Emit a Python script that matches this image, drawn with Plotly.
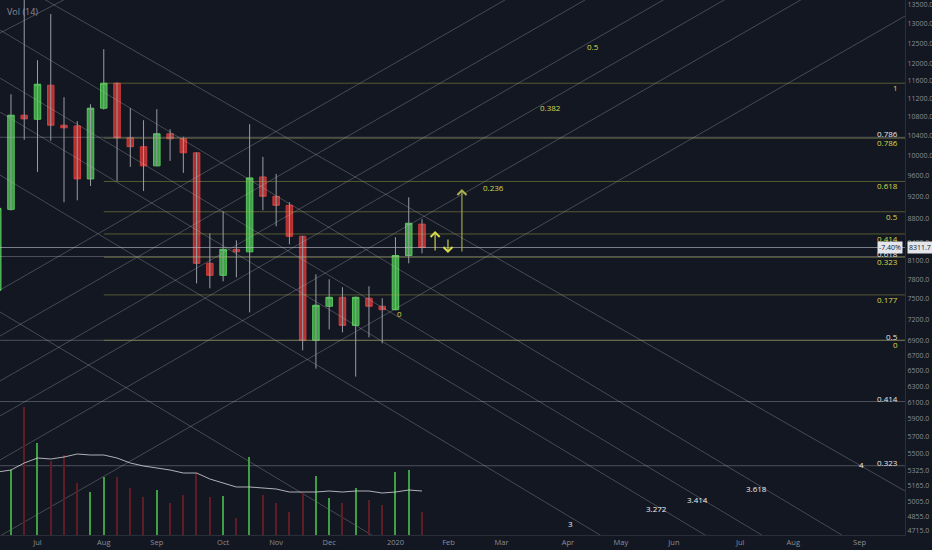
import numpy as np
import plotly.graph_objects as go

# weekly candles (Monday of each week)
dates = ["2019-06-10", "2019-06-17", "2019-06-24", "2019-07-01", "2019-07-08", "2019-07-15",
         "2019-07-22", "2019-07-29", "2019-08-05", "2019-08-12", "2019-08-19", "2019-08-26",
         "2019-09-02", "2019-09-09", "2019-09-16", "2019-09-23", "2019-09-30", "2019-10-07",
         "2019-10-14", "2019-10-21", "2019-10-28", "2019-11-04", "2019-11-11", "2019-11-18",
         "2019-11-25", "2019-12-02", "2019-12-09", "2019-12-16", "2019-12-23", "2019-12-30",
         "2020-01-06", "2020-01-13", "2020-01-20"]
opens = [7630, 8971, 10830, 10743, 11499, 10615, 10600, 9534, 10983, 11545, 10352, 10168, 9786,
         10435, 10331, 10045, 8053, 7862, 8282, 8240, 9572, 9208, 9043, 8500, 6904, 7390, 7524,
         7113, 7510, 7390, 7340, 8180, 8710]
highs = [9100, 11294, 13880, 12089, 13259, 11226, 10700, 11071, 12358, 11560, 10983, 10722, 10961,
         10530, 10373, 10050, 8551, 8936, 8432, 10636, 9963, 9630, 9099, 8510, 7878, 7800, 7676,
         7535, 7692, 7510, 8484, 9190, 8795]
lows = [7500, 8950, 10310, 9669, 10290, 9099, 9135, 9400, 10950, 9497, 9766, 9306, 9780, 9884,
        9650, 7737, 7660, 7768, 7830, 7300, 8954, 8672, 8365, 6767, 6524, 7056, 7014, 6420, 6945,
        6862, 7330, 8053, 8217]
closes = [8989, 10830, 10750, 11522, 10615, 10560, 9534, 10983, 11545, 10352, 10168, 9786, 10435,
          10331, 10045, 8053, 7862, 8282, 8240, 9553, 9208, 9043, 8500, 6904, 7405, 7524, 7113,
          7524, 7390, 7340, 8180, 8725, 8312]
vol_k = [60, 65, 128, 92, 74, 80, 52, 43, 58, 58, 47, 38, 45, 32, 40, 62, 38, 39, 17, 78, 40, 32,
         23, 42, 59, 37, 32, 47, 35, 30, 63, 65, 23]
vol_ma_k = [63, 65, 72, 77, 76, 78, 81, 80, 80, 77, 72, 69, 67, 65, 62, 62, 56, 52, 48, 48, 47, 46,
            43, 43, 43, 44, 43, 44, 44, 42, 43, 45, 44]

last_price = 8311.7
last_change = "-7.40%"

price_ticks = [13500, 13000, 12500, 12000, 11600, 11200, 10800, 10400, 10000, 9600, 9200, 8800,
               8400, 8100, 7800, 7500, 7200, 6900, 6700, 6500, 6300, 6100, 5900, 5700, 5500, 5325,
               5165, 5005, 4855, 4715]
month_ticks = ["2019-07-01", "2019-08-05", "2019-09-02", "2019-10-07", "2019-11-04", "2019-12-02",
               "2020-01-06", "2020-02-03", "2020-03-02", "2020-04-06", "2020-05-04", "2020-06-01",
               "2020-07-06", "2020-08-03", "2020-09-07"]
month_labels = ["Jul", "Aug", "Sep", "Oct", "Nov", "Dec", "2020", "Feb", "Mar", "Apr", "May", "Jun",
                "Jul", "Aug", "Sep"]

# fib retracement levels (yellow, drawn from Aug 5) and (white, full width)
yellow_levels = ["0", "0.177", "0.323", "0.414", "0.5", "0.618", "0.786", "1"]
yellow_prices = [6904, 7560, 8150, 8540, 8928, 9486, 10342, 11545]
white_levels = ["0.323", "0.414", "0.5", "0.618", "0.786"]
white_prices = [5372, 6108, 6904, 8163, 10362]

# diagonal channel lines: price at left edge / right edge of the view
line_start, line_end = "2019-06-11 05:00", "2020-10-01"
rising_p0 = [12765, 7634, 6963, 6364, 5934, 5434, 4668]
rising_p1 = [32676, 21599, 19700, 18004, 16788, 15374, 13205]
falling_p0 = [14363, 12841, 11665, 10898, 9608, 7306]
falling_p1 = [5107, 4335, 3938, 3679, 3244, 2466]

rising_labels = ["0", "0.236", "0.382", "0.5"]
rising_label_x = ["2020-01-08", "2020-02-26 12:00", "2020-03-27 14:00", "2020-04-19 07:00"]
rising_label_y = [7291, 9381, 10987, 12436]
falling_labels = ["3", "3.272", "3.414", "3.618", "4"]
falling_label_x = ["2020-04-07 05:00", "2020-05-22 14:00", "2020-06-13 05:00",
                   "2020-07-14 10:00", "2020-09-08 07:00"]
falling_label_y = [4790, 4936, 5026, 5138, 5380]

# arrows: (x tail, price tail, x head, price head)
arrows = [("2020-01-26 22:00", 8237, "2020-01-26 22:00", 8590),
          ("2020-02-02 17:00", 8470, "2020-02-02 17:00", 8221),
          ("2020-02-10 02:00", 8221, "2020-02-10 02:00", 9343)]

BG = "#131722"
YELLOW = "#d6da4a"
FONT = "Open Sans"

fig = go.Figure()

for p0, p1 in zip(rising_p0, rising_p1):
    fig.add_trace(go.Scatter(x=[line_start, line_end], y=[p0, p1], mode="lines",
                             line=dict(color="rgba(190,192,200,0.30)", width=1)))
for p0, p1 in zip(falling_p0, falling_p1):
    fig.add_trace(go.Scatter(x=[line_start, line_end], y=[p0, p1], mode="lines",
                             line=dict(color="rgba(190,192,200,0.30)", width=1)))

for p in white_prices:
    fig.add_trace(go.Scatter(x=[line_start, line_end], y=[p, p], mode="lines",
                             line=dict(color="rgba(200,202,210,0.32)", width=1)))
for p in yellow_prices:
    fig.add_trace(go.Scatter(x=["2019-08-05", line_end], y=[p, p], mode="lines",
                             line=dict(color="rgba(170,170,70,0.45)", width=1)))

fig.add_trace(go.Scatter(x=[line_start, line_end], y=[last_price, last_price], mode="lines",
                         line=dict(color="rgba(210,212,220,0.55)", width=1)))

# volume
vol_colors = ["#3f9f44" if c >= o else "#5e1c25" for o, c in zip(opens, closes)]
fig.add_trace(go.Bar(x=dates, y=vol_k, yaxis="y2", marker=dict(color=vol_colors, line_width=0),
                     width=0.7 * 86400000))
fig.add_trace(go.Scatter(x=dates, y=vol_ma_k, yaxis="y2", mode="lines",
                         line=dict(color="rgba(215,215,220,0.8)", width=1)))

# wicks
wick_x, wick_y = [], []
for d, h, l in zip(dates, highs, lows):
    wick_x += [d, d, None]
    wick_y += [l, h, None]
fig.add_trace(go.Scatter(x=wick_x, y=wick_y, mode="lines",
                         line=dict(color="#9a9da6", width=1)))

# bodies
fig.add_trace(go.Candlestick(
    x=dates, open=opens, close=closes,
    high=[max(o, c) for o, c in zip(opens, closes)],
    low=[min(o, c) for o, c in zip(opens, closes)],
    whiskerwidth=0,
    increasing=dict(fillcolor="#3fa046", line=dict(color="#58c85d", width=1)),
    decreasing=dict(fillcolor="#b3302f", line=dict(color="#cf3b3b", width=1)),
))

fig.update_traces(hoverinfo="skip", showlegend=False)

ann = []
for lv, p in zip(yellow_levels, yellow_prices):
    ann.append(dict(xref="paper", yref="y", x=0.9945, y=np.log10(p), text=lv, showarrow=False,
                    xanchor="right", yanchor="middle", yshift=-4.5,
                    font=dict(color=YELLOW, size=8, family=FONT)))
for lv, p in zip(white_levels, white_prices):
    ann.append(dict(xref="paper", yref="y", x=0.9945, y=np.log10(p), text=lv, showarrow=False,
                    xanchor="right", yanchor="middle", yshift=3.5,
                    font=dict(color="#e6e6e6", size=8, family=FONT)))
for lv, x, p in zip(rising_labels, rising_label_x, rising_label_y):
    ann.append(dict(xref="x", yref="y", x=x, y=np.log10(p), text=lv, showarrow=False,
                    font=dict(color=YELLOW, size=8, family=FONT)))
for lv, x, p in zip(falling_labels, falling_label_x, falling_label_y):
    ann.append(dict(xref="x", yref="y", x=x, y=np.log10(p), text=lv, showarrow=False,
                    font=dict(color="#eeeeee", size=8, family=FONT)))
for i, (x0, p0, x1, p1) in enumerate(arrows):
    ann.append(dict(xref="x", yref="y", axref="x", ayref="y", x=x1, y=np.log10(p1), ax=x0,
                    ay=np.log10(p0), text="", showarrow=True, arrowhead=4, arrowsize=1.6,
                    arrowwidth=1.1, arrowcolor=YELLOW if i < 2 else "#aab04e"))

ann.append(dict(xref="paper", yref="y", x=0.998, y=np.log10(last_price), text=last_change,
                showarrow=False, xanchor="right", bgcolor="#e4e6ec", borderpad=1,
                font=dict(color="#131722", size=7, family=FONT)))
ann.append(dict(xref="paper", yref="y", x=1.002, y=np.log10(last_price), text=f"{last_price:.1f}",
                showarrow=False, xanchor="left", bgcolor="#e4e6ec", borderpad=1,
                font=dict(color="#131722", size=7, family=FONT)))
ann.append(dict(xref="paper", yref="paper", x=0.005, y=0.995, text="Vol (14)", showarrow=False,
                xanchor="left", yanchor="top", font=dict(color="#8a8d96", size=9, family=FONT)))

fig.update_layout(
    width=932, height=550,
    margin=dict(l=0, r=27, t=0, b=15),
    paper_bgcolor=BG, plot_bgcolor=BG,
    barmode="overlay", bargap=0,
    annotations=ann,
    xaxis=dict(type="date", range=[line_start, line_end], rangeslider=dict(visible=False),
               tickvals=month_ticks, ticktext=month_labels, showgrid=False, zeroline=False,
               showline=True, linecolor="#2a2e39", ticks="", automargin=False,
               tickfont=dict(color="#8a8d96", size=7.5, family=FONT)),
    yaxis=dict(type="log", side="right", range=[np.log10(4677), np.log10(13636)],
               tickvals=price_ticks, ticktext=[f"{v:.1f}" for v in price_ticks],
               showgrid=False, zeroline=False, showline=True, linecolor="#2a2e39", ticks="",
               automargin=False, tickfont=dict(color="#8a8d96", size=7, family=FONT)),
    yaxis2=dict(overlaying="y", range=[0, 535], visible=False),
    font=dict(family=FONT),
)

fig.write_html("out.html", config={"displayModeBar": False},
               post_script="document.body.style.margin='0';document.body.style.overflow='hidden';")
